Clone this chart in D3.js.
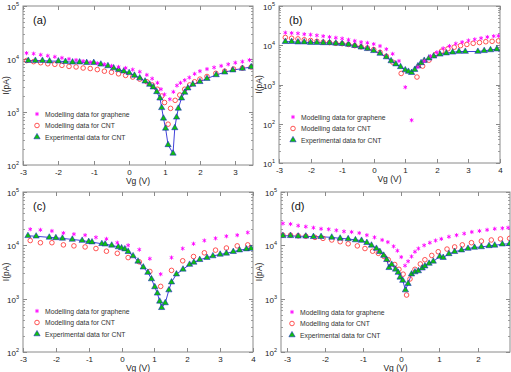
<!DOCTYPE html>
<html><head><meta charset="utf-8">
<script src="https://cdn.jsdelivr.net/npm/d3@7"></script>
<style>body{margin:0;background:#fff}svg{display:block}text{font-family:"Liberation Sans",Arial,sans-serif}</style>
</head><body>
<svg id="c" width="511" height="372"></svg>
<script>
// ---------- DATA (Vg in V, I in pA) ----------
const legendLabels = ["Modelling data for graphene", "Modelling data for CNT", "Experimental data for CNT"];
const panelLabels = ["(a)", "(b)", "(c)", "(d)"];
const xTicksA = [-3,-2,-1,0,1,2,3], xTicksB = [-3,-2,-1,0,1,2,3,4], xTicksC = [-3,-2,-1,0,1,2,3,4], xTicksD = [-3,-2,-1,0,1,2];
const yExpA = [2,3,4,5], yExpB = [1,2,3,4,5], yExpC = [2,3,4,5], yExpD = [2,3,4,5];

// (a)
const aGrX = [-2.9,-2.7,-2.5,-2.3,-2.1,-1.9,-1.7,-1.5,-1.3,-1.1,-0.9,-0.7,-0.5,-0.3,-0.1,0.1,0.3,0.5,0.65,0.8,0.9,1.0,1.15,1.25,1.35,1.45,1.57,1.7,1.85,2.0,2.2,2.4,2.6,2.8,3.0,3.2,3.4];
const aGrY = [12900,12600,12000,11500,11000,10500,10000,9550,9120,8710,8320,7940,7410,7080,6760,6310,5750,5010,4270,3550,2690,2140,1740,2400,3160,3550,3980,4470,5250,5890,6460,6920,7410,7940,8510,8910,9550];
const aCnX = [-2.9,-2.7,-2.5,-2.3,-2.1,-1.9,-1.7,-1.5,-1.3,-1.1,-0.9,-0.7,-0.5,-0.3,-0.1,0.1,0.3,0.5,0.65,0.8,0.92,1.0,1.1,1.17,1.3,1.43,1.57,1.71,1.85,2.0,2.2,2.45,2.7,2.95,3.2,3.45];
const aCnY = [9330,8910,8510,8130,7940,7590,7240,7080,6760,6610,6310,5890,5620,5250,4900,4570,4170,3720,3240,2690,2000,1510,589,1170,1660,2090,2690,3240,3720,4170,4680,5370,5890,6460,6760,7080];
const aExX = [-2.85,-2.65,-2.45,-2.25,-2.0,-1.8,-1.6,-1.4,-1.2,-1.0,-0.8,-0.6,-0.44,-0.3,-0.15,0.0,0.15,0.3,0.45,0.58,0.68,0.78,0.87,0.92,0.97,1.03,1.1,1.24,1.29,1.34,1.39,1.48,1.57,1.66,1.8,2.0,2.2,2.46,2.7,2.93,3.2,3.45];
const aExY = [9330,9330,9330,9120,9120,8910,8710,8710,8510,8510,7940,7410,6760,6310,5890,5500,4900,4370,3800,3310,2950,2400,1820,1200,759,490,240,166,501,794,1170,1820,2340,2820,3310,3720,4270,5010,5620,6170,6610,7080];

// (b)
const bGrX = [-2.8,-2.6,-2.4,-2.2,-2.0,-1.8,-1.6,-1.4,-1.2,-1.0,-0.8,-0.6,-0.4,-0.2,0.0,0.2,0.4,0.6,0.8,1.0,1.2,1.4,1.6,1.8,2.0,2.2,2.4,2.6,2.8,3.0,3.2,3.4,3.6,3.8,3.95];
const bGrY = [20900,20400,20000,19100,18600,17800,17000,16200,15500,14800,13800,12900,12000,11500,10700,9550,7940,6030,3980,851,123,2820,3980,5250,6610,8320,9550,11000,12000,13200,14100,15100,16200,17000,17400];
const bCnX = [-2.8,-2.6,-2.4,-2.2,-2.0,-1.8,-1.6,-1.4,-1.2,-1.0,-0.8,-0.6,-0.4,-0.2,0.0,0.2,0.4,0.6,0.87,1.37,1.55,1.75,1.95,2.15,2.35,2.55,2.75,2.95,3.15,3.35,3.55,3.75,3.95];
const bCnY = [15800,15100,14500,13800,13200,12600,12000,11700,11200,11000,10500,9770,9120,8510,7760,6610,5250,3720,1910,1550,2950,4170,5750,7080,8130,8910,9770,10500,11200,11700,12300,12600,12900];
const bExX = [-2.8,-2.6,-2.4,-2.2,-2.0,-1.8,-1.6,-1.4,-1.2,-1.0,-0.8,-0.6,-0.4,-0.2,0.0,0.2,0.4,0.55,0.7,0.85,1.0,1.1,1.2,1.3,1.4,1.5,1.6,1.75,1.9,2.1,2.3,2.5,2.7,2.9,3.3,3.5,3.7,3.9];
const bExY = [12300,12300,12000,12000,11700,11700,11500,11500,11200,11000,10500,9770,8910,8130,7240,6170,5010,3980,3310,2820,2340,2140,2000,2400,2950,3550,4070,4680,5250,5890,6310,6610,6920,6920,6920,7240,7590,7940];

// (c)
const cGrX = [-2.78,-2.47,-2.12,-1.77,-1.45,-1.11,-0.78,-0.46,-0.13,0.2,0.54,0.86,1.19,1.52,1.86,2.19,2.52,2.86,3.19,3.52,3.84];
const cGrY = [20000,19500,18600,17000,16200,15500,14100,13200,11200,10000,8320,5620,2880,5890,8710,10700,12300,13500,14800,15500,17400];
const cCnX = [-2.78,-2.47,-2.12,-1.77,-1.45,-1.11,-0.78,-0.46,-0.13,0.2,0.54,0.86,1.19,1.52,1.86,2.19,2.52,2.86,3.19,3.52,3.84];
const cCnY = [12300,11200,11200,10200,9770,9330,8710,7760,7080,5890,4900,3240,1700,3390,5130,6170,7240,8130,8910,9770,10200];
const cExX = [-2.85,-2.6,-2.2,-2.0,-1.8,-1.5,-1.2,-1.0,-0.9,-0.6,-0.5,-0.3,-0.1,0.0,0.1,0.2,0.35,0.5,0.66,0.8,0.91,1.01,1.09,1.16,1.22,1.33,1.44,1.52,1.67,1.87,2.07,2.2,2.38,2.6,2.78,3.0,3.19,3.4,3.59,3.8,3.94];
const cExY = [15100,14800,14100,13800,13500,12900,12300,11700,11500,10700,10500,10000,9330,8910,8510,7590,6310,5010,3890,3090,2340,1660,1260,891,676,832,1450,2040,2880,3550,4370,4790,5370,5890,6310,6760,7080,7590,8130,8510,8710];

// (d)
const dGrX = [-3.1,-2.9,-2.7,-2.5,-2.3,-2.1,-1.9,-1.7,-1.5,-1.3,-1.1,-0.9,-0.7,-0.5,-0.35,-0.2,-0.1,0.0,0.1,0.18,0.27,0.36,0.45,0.6,0.75,0.9,1.05,1.25,1.45,1.65,1.85,2.05,2.25,2.45,2.65,2.8];
const dGrY = [25700,25100,23400,22400,21400,20400,20000,19100,18200,17800,17000,15500,14100,12600,11500,9550,7940,6030,4170,5010,6170,7590,8710,10000,11200,12300,13200,14500,15500,16600,17800,18600,19500,20400,20900,21400];
const dCnX = [-3.1,-2.9,-2.7,-2.5,-2.26,-2.05,-1.82,-1.6,-1.39,-1.15,-0.95,-0.75,-0.6,-0.45,-0.34,-0.17,-0.06,0.05,0.14,0.23,0.36,0.5,0.62,0.8,0.97,1.2,1.4,1.6,1.84,2.1,2.36,2.6,2.84];
const dCnY = [15500,15500,15100,14800,14100,13500,12600,11700,10700,9770,8710,7760,7080,6170,5370,4370,3550,2880,1170,2340,3550,4470,5370,6460,7590,8510,9330,10200,11200,12000,12600,13200,13500];
const dExX = [-3.1,-2.9,-2.7,-2.5,-2.3,-2.1,-1.82,-1.6,-1.39,-1.2,-1.04,-0.9,-0.78,-0.65,-0.56,-0.46,-0.38,-0.32,-0.25,-0.15,-0.08,-0.03,0.04,0.11,0.18,0.27,0.36,0.45,0.55,0.62,0.73,0.84,1.01,1.1,1.25,1.4,1.58,1.75,1.92,2.1,2.3,2.45,2.65,2.84];
const dExY = [15100,15100,14800,14800,14500,14500,14100,13500,13200,12600,12300,11200,10000,8710,7590,6460,5370,3800,4370,3550,3090,2510,2190,1450,1910,2880,3160,3310,3720,4070,4570,5010,6170,5890,6920,7590,8130,8710,9120,9330,9770,10000,10500,10700];

// ---------- LAYOUT ----------
const panels = [
  {lab: panelLabels[0], l: 23, t: 6, r: 253, b: 165, xd: [-3, 3.5], yd: [1e2, 1e5], xt: xTicksA, ye: yExpA,
   gr: [aGrX, aGrY], cn: [aCnX, aCnY], ex: [aExX, aExY], leg: [37, 114], yl: 6},
  {lab: panelLabels[1], l: 279, t: 6, r: 500, b: 163, xd: [-3, 4], yd: [1e1, 1e5], xt: xTicksB, ye: yExpB,
   gr: [bGrX, bGrY], cn: [bCnX, bCnY], ex: [bExX, bExY], leg: [293, 117], yl: 259},
  {lab: panelLabels[2], l: 23, t: 192, r: 253, b: 352, xd: [-3, 4], yd: [1e2, 1e5], xt: xTicksC, ye: yExpC,
   gr: [cGrX, cGrY], cn: [cCnX, cCnY], ex: [cExX, cExY], leg: [37, 311], yl: 6},
  {lab: panelLabels[3], l: 281, t: 192, r: 510, b: 352, xd: [-3.15, 2.85], yd: [1e2, 1e5], xt: xTicksD, ye: yExpD,
   gr: [dGrX, dGrY], cn: [dCnX, dCnY], ex: [dExX, dExY], leg: [292, 312], yl: 259}
];

const svg = d3.select("#c");
const axisCol = "#8a8a8a", txtCol = "#222";
const grCol = "#ff00ff", cnCol = "#ff2a2a", exFill = "#10c010", exStroke = "#1010d0";

const symGr = d3.symbol().type(d3.symbolAsterisk).size(12);
const symTri = d3.symbol().type(d3.symbolTriangle).size(17);

function drawGr(g, x, y) {
  g.append("path").attr("d", symGr()).attr("transform", `translate(${x},${y})`)
    .attr("fill", "none").attr("stroke", grCol).attr("stroke-width", 0.9);
}
function drawCn(g, x, y) {
  g.append("circle").attr("cx", x).attr("cy", y).attr("r", 2.3)
    .attr("fill", "none").attr("stroke", cnCol).attr("stroke-width", 0.8);
}
function drawEx(g, x, y) {
  g.append("path").attr("d", symTri()).attr("transform", `translate(${x},${y})`)
    .attr("fill", exFill).attr("stroke", exStroke).attr("stroke-width", 0.5);
}

panels.forEach(p => {
  const g = svg.append("g");
  const xs = d3.scaleLinear().domain(p.xd).range([p.l, p.r]);
  const ys = d3.scaleLog().domain(p.yd).range([p.b, p.t]);

  // frame
  g.append("rect").attr("x", p.l).attr("y", p.t).attr("width", p.r - p.l).attr("height", p.b - p.t)
    .attr("fill", "none").attr("stroke", axisCol).attr("stroke-width", 1);

  // y ticks (major + minor), both sides, inward
  const lo = Math.log10(p.yd[0]), hi = Math.log10(p.yd[1]);
  for (let e = lo; e < hi; e++) {
    for (let m = 2; m <= 9; m++) {
      const yy = Math.round(ys(m * Math.pow(10, e))) + 0.5;
      g.append("line").attr("x1", p.l).attr("x2", p.l + 2).attr("y1", yy).attr("y2", yy).attr("stroke", axisCol).attr("stroke-width", 0.8);
      g.append("line").attr("x1", p.r).attr("x2", p.r - 2).attr("y1", yy).attr("y2", yy).attr("stroke", axisCol).attr("stroke-width", 0.8);
    }
  }
  p.ye.forEach(e => {
    const yy = Math.round(ys(Math.pow(10, e))) + 0.5;
    g.append("line").attr("x1", p.l).attr("x2", p.l + 4).attr("y1", yy).attr("y2", yy).attr("stroke", axisCol);
    g.append("line").attr("x1", p.r).attr("x2", p.r - 4).attr("y1", yy).attr("y2", yy).attr("stroke", axisCol);
    const t = g.append("text").attr("x", p.l - 4).attr("y", yy + 3).attr("text-anchor", "end")
      .attr("font-size", 8).attr("fill", txtCol);
    t.append("tspan").text("10");
    t.append("tspan").attr("dy", -4).attr("font-size", 5.5).text(e);
  });

  // x ticks
  p.xt.forEach(v => {
    const xx = Math.round(xs(v)) + 0.5;
    g.append("line").attr("x1", xx).attr("x2", xx).attr("y1", p.b).attr("y2", p.b - 4).attr("stroke", axisCol);
    g.append("line").attr("x1", xx).attr("x2", xx).attr("y1", p.t).attr("y2", p.t + 4).attr("stroke", axisCol);
    g.append("text").attr("x", xx).attr("y", p.b + 10).attr("text-anchor", "middle")
      .attr("font-size", 8).attr("fill", txtCol).text(v);
  });

  // axis titles
  g.append("text").attr("x", (p.l + p.r) / 2).attr("y", p.b + 18.5).attr("text-anchor", "middle")
    .attr("font-size", 8.5).attr("fill", txtCol).text("Vg (V)");
  g.append("text").attr("transform", `translate(${p.yl + 3},${(p.t + p.b) / 2}) rotate(-90)`)
    .attr("text-anchor", "middle").attr("font-size", 8.5).attr("fill", txtCol).text("I(pA)");

  // panel label
  g.append("text").attr("x", p.l + 10).attr("y", p.t + 18).attr("font-size", 11).attr("fill", "#111").text(p.lab);

  // data
  const clip = "clip" + p.lab.replace(/\W/g, "");
  svg.append("clipPath").attr("id", clip).append("rect").attr("x", p.l).attr("y", p.t).attr("width", p.r - p.l).attr("height", p.b - p.t);
  const dg = g.append("g").attr("clip-path", `url(#${clip})`);
  const exPts = p.ex[0].map((v, i) => [v, p.ex[1][i]]);
  dg.append("path").datum(exPts)
    .attr("d", d3.line().x(d => xs(d[0])).y(d => ys(d[1])))
    .attr("fill", "none").attr("stroke", exStroke).attr("stroke-width", 0.8);
  p.cn[0].forEach((v, i) => drawCn(dg, xs(v), ys(p.cn[1][i])));
  p.ex[0].forEach((v, i) => drawEx(dg, xs(v), ys(p.ex[1][i])));
  p.gr[0].forEach((v, i) => drawGr(dg, xs(v), ys(p.gr[1][i])));

  // legend
  const [lx, ly] = p.leg;
  const fns = [drawGr, drawCn, drawEx];
  legendLabels.forEach((s, i) => {
    const yy = ly + i * 11.5;
    fns[i](g, lx, yy);
    g.append("text").attr("x", lx + 8).attr("y", yy + 2.5).attr("font-size", 6.8).attr("fill", "#333").text(s);
  });
});
</script>
</body></html>
